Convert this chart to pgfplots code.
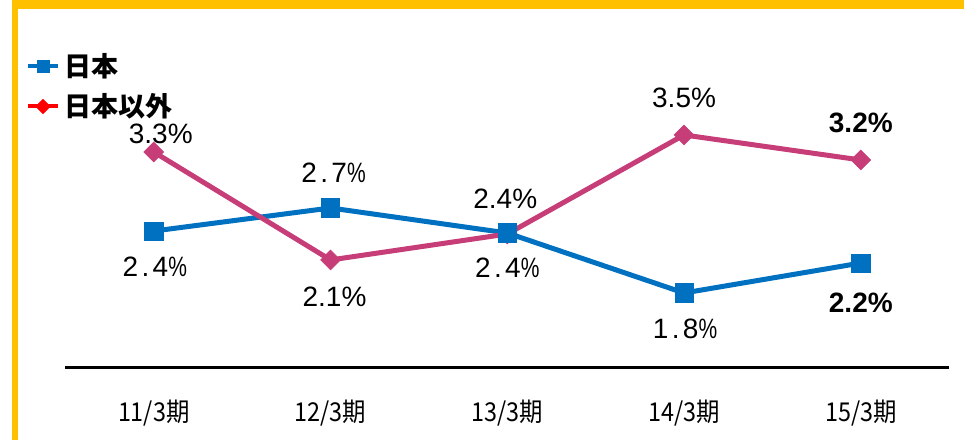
\documentclass[border=0pt]{standalone}
\usepackage{fontspec}
\setmainfont{Liberation Sans}
\newfontfamily\cjk{Noto Sans CJK JP}
\newfontfamily\cjkn[FakeStretch=0.9]{Noto Sans CJK JP}
\usepackage{graphicx}
\usepackage{pgfplots}
\pgfplotsset{compat=1.18}
\definecolor{cJP}{HTML}{0070C0}
\definecolor{cEX}{HTML}{C63D78}
\definecolor{cLeg}{HTML}{FF0000}
\definecolor{cFrame}{HTML}{FFC000}
% spaced label style used for the Japan series
\DeclareRobustCommand\jp[2]{#1\hspace{0.12em}.\hspace{0.12em}#2\scalebox{0.75}[1]{\%}}

\pgfplotstableread{
x y dx dy lab
0 2.462 0.5 -18 {\jp{2}{4}}
1 2.710 1.5 17.5 {\jp{2}{7}}
2 2.441 0 -17.5 {\jp{2}{4}}
3 1.796 0.5 -18 {\jp{1}{8}}
4 2.118 0 -20 {\textbf{2.2\%}}
}\japan

\pgfplotstableread{
x y dx dy lab
0 3.312 3.5 9 {3.3\%}
1 2.151 2 -18.5 {2.1\%}
2 2.430 -1 17.5 {2.4\%}
3 3.495 0 18.5 {3.5\%}
4 3.226 0 18.5 {\textbf{3.2\%}}
}\others

\pgfplotsset{lbl/.style={nodes near coords, point meta=explicit symbolic,
  visualization depends on={\thisrow{dx}\as\dx},
  visualization depends on={\thisrow{dy}\as\dy},
  every node near coord/.append style={anchor=center, text=black,
    font=\fontsize{14}{16}\selectfont, xshift=\dx pt, yshift=\dy pt}}}

\begin{document}
\begin{tikzpicture}
\useasboundingbox (0,0) rectangle (482pt,220pt);
\fill[cFrame] (6pt,215.5pt) rectangle (482pt,220pt);
\fill[cFrame] (6pt,0pt) rectangle (9pt,220pt);
\begin{axis}[at={(32.7pt,36.5pt)}, anchor=south west,
  scale only axis, width=441.9pt, height=139.5pt,
  xmin=-0.5, xmax=4.5, ymin=1, ymax=4, clip=false,
  axis x line=bottom, axis y line=none,
  x axis line style={-, line width=1.5pt, black},
  xtick={0,1,2,3,4}, major tick length=0pt, ytick=\empty,
  xticklabels={11/3期,12/3期,13/3期,14/3期,15/3期},
  xticklabel style={font=\cjkn\fontsize{13}{15}\selectfont, yshift=-13pt},
  legend style={at={(axis description cs:-0.045,1.14)}, anchor=north west,
    draw=none, fill=none, inner sep=0pt, row sep=3pt,
    font=\cjk\bfseries\fontsize{13.5}{16}\selectfont},
  legend cell align=left,
  legend image code/.code={\draw[mark repeat=2,mark phase=2,#1]
    plot coordinates {(0pt,0pt) (7.5pt,0pt) (15pt,0pt)};}]
\addlegendimage{cJP, line width=2pt, mark=square*, mark size=3pt, mark options={line width=0.2pt}}
\addlegendentry{日本}
\addlegendimage{cLeg, line width=2pt, mark=square*, mark size=2.6pt, mark options={rotate=45, line width=0.2pt}}
\addlegendentry{日本以外}
\addplot[cJP, line width=2.5pt, forget plot] table[x=x, y=y]{\japan};
\addplot[cEX, line width=2.5pt, mark=square*, mark size=3.5pt,
  mark options={rotate=45, line width=0.3pt}, forget plot,
  lbl] table[x=x, y=y, meta=lab]{\others};
\addplot[cJP, only marks, mark=square*, mark size=4.6pt,
  mark options={line width=0.3pt}, forget plot,
  lbl] table[x=x, y=y, meta=lab]{\japan};
\end{axis}
\end{tikzpicture}
\end{document}
